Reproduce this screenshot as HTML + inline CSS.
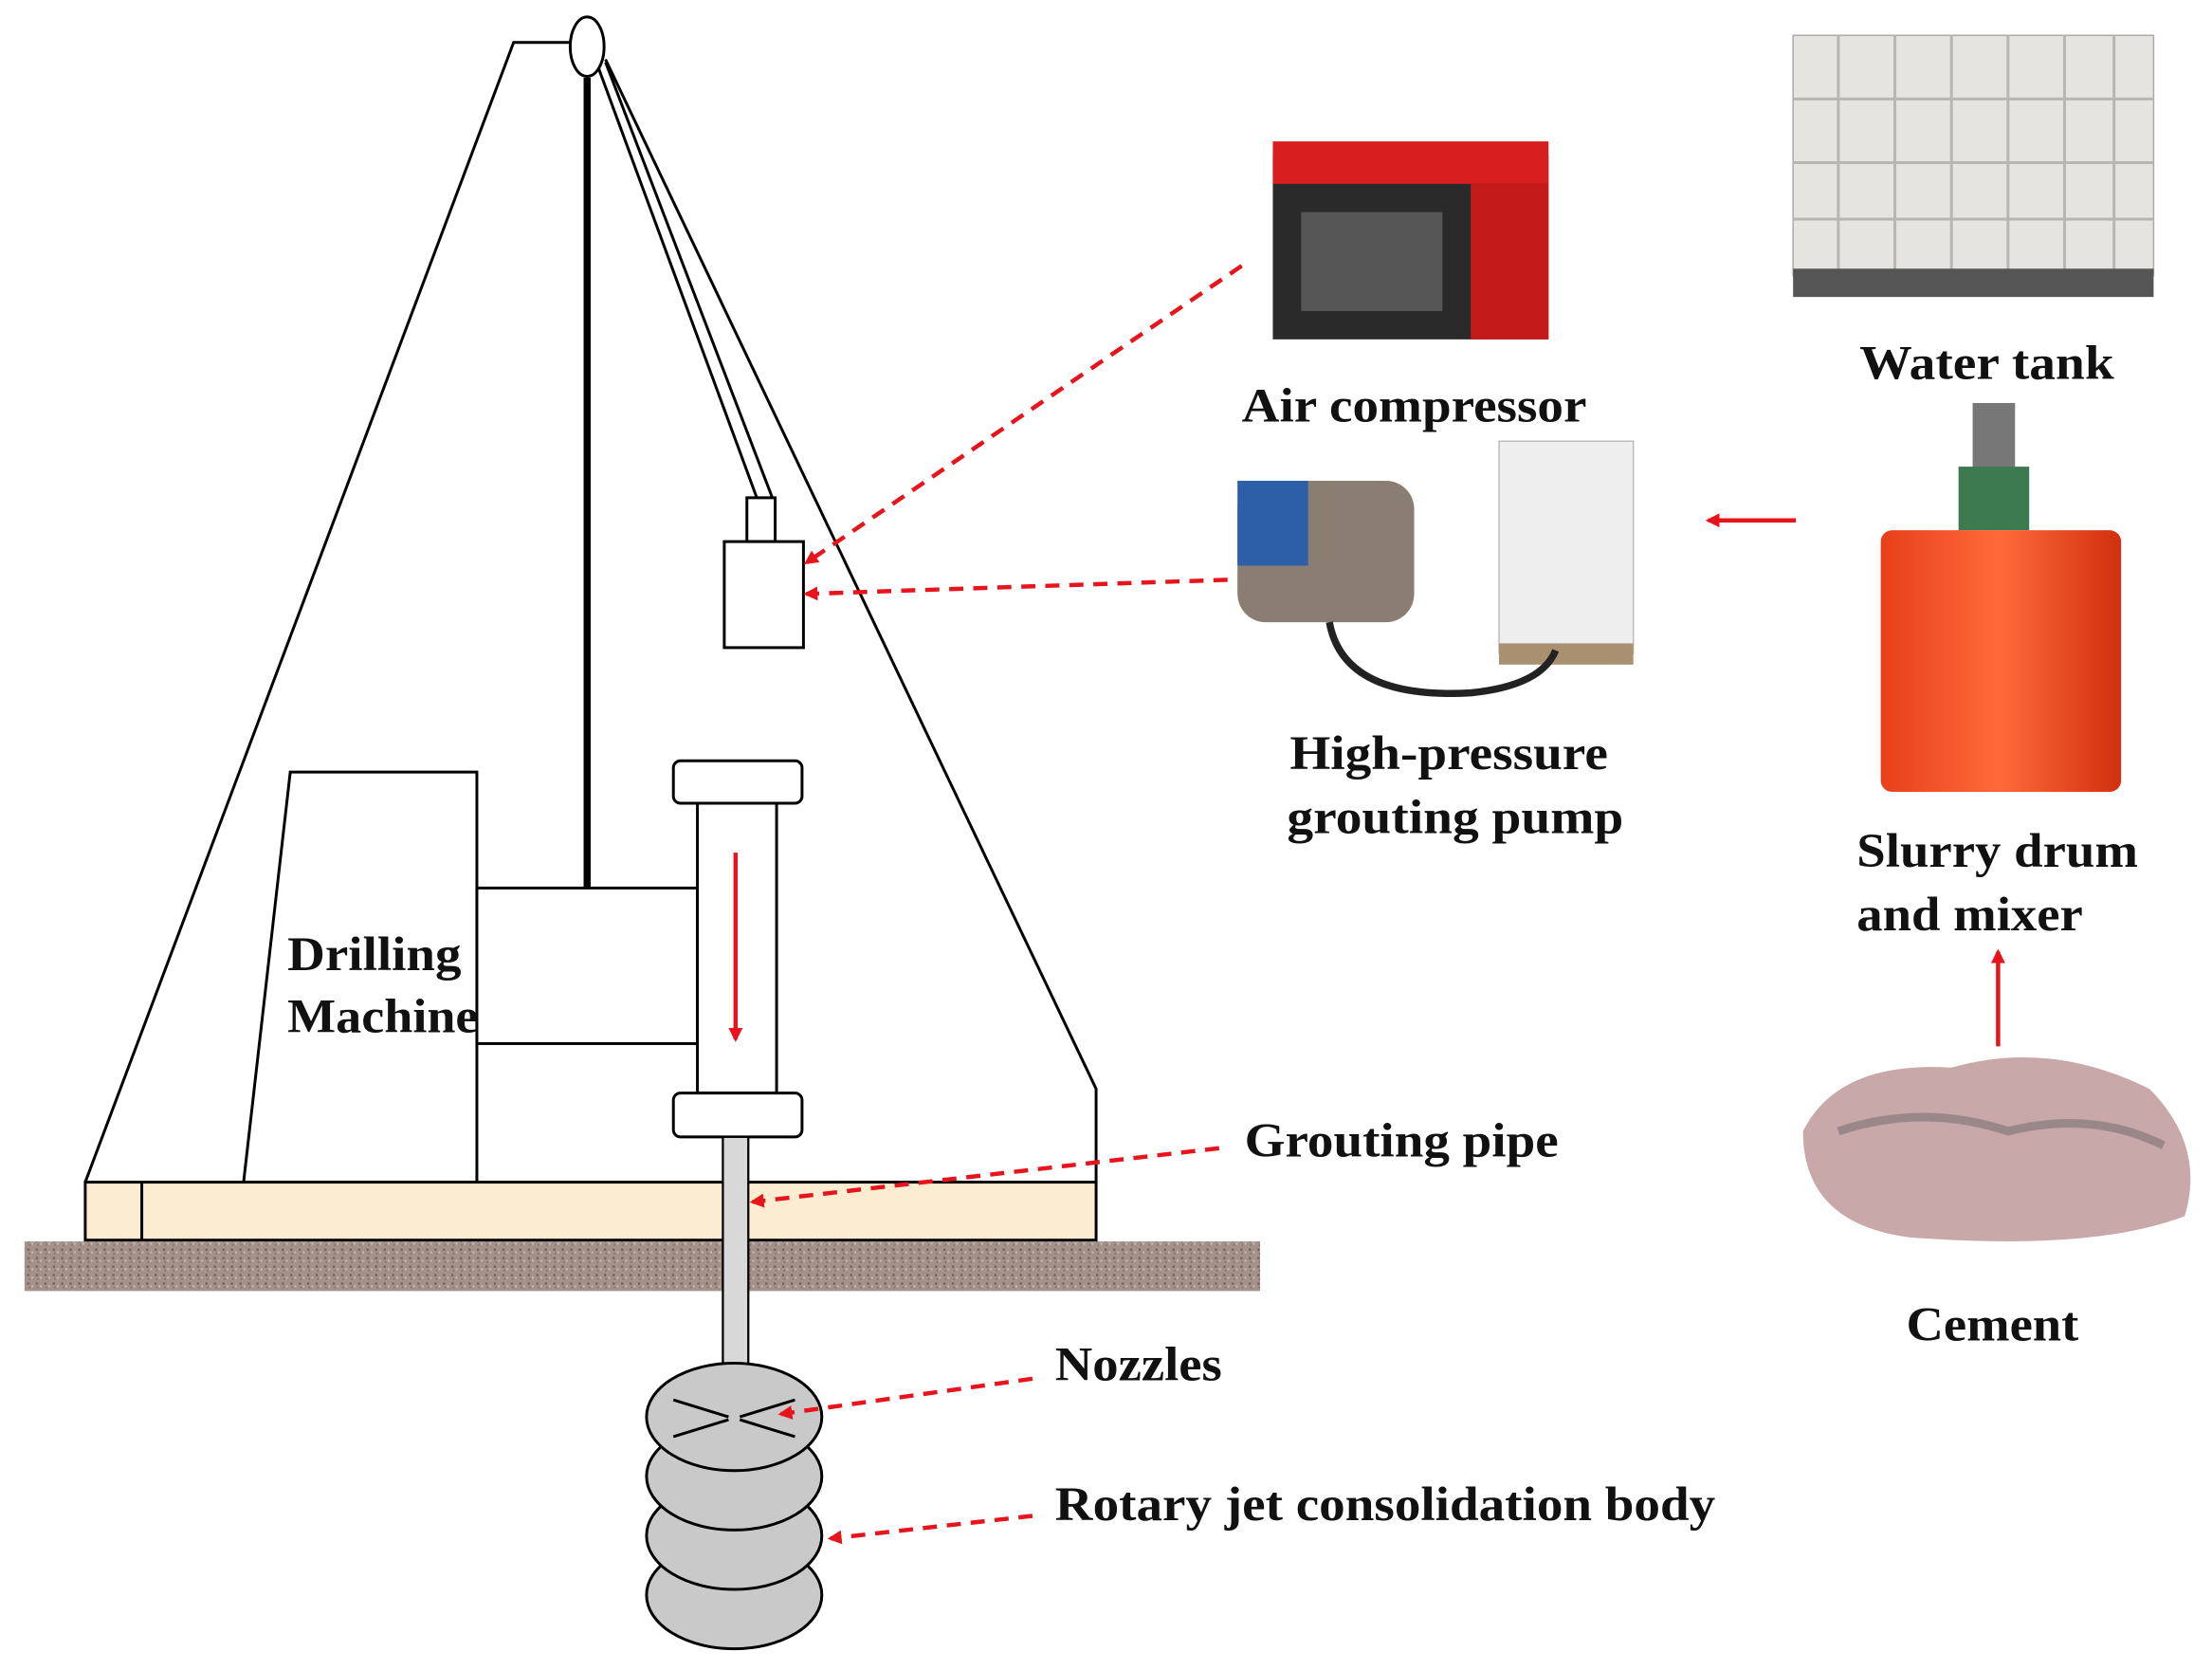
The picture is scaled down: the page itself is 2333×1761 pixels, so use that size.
<!DOCTYPE html>
<html><head><meta charset="utf-8"><style>
html,body{margin:0;padding:0;background:#fff;}
svg{display:block;}
text{font-family:"Liberation Serif",serif;font-weight:bold;fill:#111;}
</style></head><body>
<svg width="2333" height="1761" viewBox="0 0 1564 1181" xmlns="http://www.w3.org/2000/svg">
<defs>
<marker id="ah" markerWidth="10" markerHeight="10" refX="8" refY="5" orient="auto" markerUnits="userSpaceOnUse">
<path d="M0,0 L10,5 L0,10 z" fill="#e8141c"/></marker>
<pattern id="grav" width="6" height="6" patternUnits="userSpaceOnUse">
<rect width="6" height="6" fill="#a4928a"/><rect x="1" y="1" width="1.5" height="1.5" fill="#6e5e58"/><rect x="4" y="3" width="1.2" height="1.2" fill="#d2c4bc"/><rect x="2" y="4" width="1" height="1" fill="#7d6a60"/></pattern>
<linearGradient id="drum" x1="0" x2="1"><stop offset="0" stop-color="#e8401a"/><stop offset="0.5" stop-color="#ff6a3a"/><stop offset="1" stop-color="#d0300f"/></linearGradient>
</defs>
<g fill="none" stroke="#000" stroke-width="2">
<polyline points="60,836 363,30 404,30"/>
<polyline points="428,42 775,770 775,836"/>
<line x1="423" y1="48" x2="535" y2="352"/>
<line x1="428" y1="44" x2="546" y2="352"/>
<line x1="415" y1="55" x2="415" y2="628" stroke-width="5"/>
<ellipse cx="415" cy="33" rx="12" ry="21" fill="#fff"/>
<rect x="528" y="352" width="20" height="31" fill="#fff"/>
<rect x="512" y="383" width="56" height="75" fill="#fff"/>
<polygon points="205,546 337,546 337,836 172,836" fill="#fff"/>
<rect x="337" y="628" width="156" height="110" fill="#fff"/>
<rect x="493" y="568" width="56" height="205" fill="#fff"/>
<rect x="476" y="538" width="91" height="30" rx="5" fill="#fff"/>
<rect x="476" y="773" width="91" height="31" rx="5" fill="#fff"/>
<rect x="60" y="836" width="715" height="41" fill="#fcedd2"/>
<line x1="100" y1="836" x2="100" y2="877"/>
</g>
<rect x="17" y="878" width="874" height="35" fill="url(#grav)"/>
<rect x="511" y="804" width="18" height="162" fill="#d8d8d8" stroke="#000" stroke-width="1.5"/>
<g fill="#c9c9c9" stroke="#000" stroke-width="2">
<ellipse cx="519" cy="1128" rx="62" ry="38"/>
<ellipse cx="519" cy="1086" rx="62" ry="38"/>
<ellipse cx="519" cy="1044" rx="62" ry="38"/>
<ellipse cx="519" cy="1002" rx="62" ry="38"/>
</g>
<g stroke="#000" stroke-width="2"><line x1="476" y1="990" x2="515" y2="1002"/><line x1="476" y1="1016" x2="515" y2="1004"/><line x1="562" y1="990" x2="523" y2="1002"/><line x1="562" y1="1016" x2="523" y2="1004"/></g>
<g stroke="#e8141c" stroke-width="3" fill="none">
<line x1="520" y1="603" x2="520" y2="735" marker-end="url(#ah)"/>
<line x1="878" y1="188" x2="570" y2="398" stroke-dasharray="10,7" marker-end="url(#ah)"/>
<line x1="868" y1="410" x2="570" y2="420" stroke-dasharray="10,7" marker-end="url(#ah)"/>
<line x1="862" y1="812" x2="532" y2="850" stroke-dasharray="10,7" marker-end="url(#ah)"/>
<line x1="730" y1="975" x2="552" y2="1000" stroke-dasharray="10,7" marker-end="url(#ah)"/>
<line x1="730" y1="1072" x2="587" y2="1088" stroke-dasharray="10,7" marker-end="url(#ah)"/>
<line x1="1270" y1="368" x2="1208" y2="368" marker-end="url(#ah)"/>
<line x1="1413" y1="740" x2="1413" y2="673" marker-end="url(#ah)"/>
</g>
<g>
<rect x="900" y="110" width="195" height="130" fill="#2a2a2a"/>
<rect x="900" y="100" width="195" height="30" fill="#d81e1e"/>
<rect x="1040" y="130" width="55" height="110" fill="#c41a1a"/>
<rect x="920" y="150" width="100" height="70" fill="#555"/>
<rect x="1268" y="25" width="255" height="170" fill="#e6e4e0" stroke="#aaa"/>
<g stroke="#b8b6b0" stroke-width="2"><line x1="1268" y1="70" x2="1523" y2="70"/><line x1="1268" y1="115" x2="1523" y2="115"/><line x1="1268" y1="155" x2="1523" y2="155"/>
<line x1="1300" y1="25" x2="1300" y2="195"/><line x1="1340" y1="25" x2="1340" y2="195"/><line x1="1380" y1="25" x2="1380" y2="195"/><line x1="1420" y1="25" x2="1420" y2="195"/><line x1="1460" y1="25" x2="1460" y2="195"/><line x1="1495" y1="25" x2="1495" y2="195"/></g>
<rect x="1268" y="190" width="255" height="20" fill="#555"/>
<rect x="875" y="340" width="125" height="100" rx="20" fill="#8a7e72"/>
<rect x="875" y="340" width="50" height="60" fill="#2d5ea8"/>
<rect x="1060" y="312" width="95" height="150" fill="#eeeeee" stroke="#bbb"/>
<rect x="1060" y="455" width="95" height="15" fill="#a89070"/>
<path d="M940,440 Q950,495 1040,490 Q1090,485 1100,460" stroke="#222" stroke-width="5" fill="none"/>
<rect x="1395" y="285" width="30" height="50" fill="#777"/>
<rect x="1385" y="330" width="50" height="45" fill="#3d7a50"/>
<rect x="1330" y="375" width="170" height="185" rx="8" fill="url(#drum)"/>
<path d="M1275,800 Q1300,750 1380,755 Q1450,735 1520,770 Q1560,810 1545,860 Q1480,885 1350,875 Q1275,865 1275,800z" fill="#c8a8a8"/>
<path d="M1300,800 Q1360,780 1420,800 Q1480,785 1530,810" stroke="#9a8888" stroke-width="6" fill="none"/>
</g>
<g font-size="34">
<text x="203" y="686" textLength="123" lengthAdjust="spacingAndGlyphs">Drilling</text>
<text x="203" y="730" textLength="135" lengthAdjust="spacingAndGlyphs">Machine</text>
<text x="878" y="298" textLength="244" lengthAdjust="spacingAndGlyphs">Air compressor</text>
<text x="1315" y="268" textLength="180" lengthAdjust="spacingAndGlyphs">Water tank</text>
<text x="912" y="544" textLength="225" lengthAdjust="spacingAndGlyphs">High-pressure</text>
<text x="910" y="589" textLength="238" lengthAdjust="spacingAndGlyphs">grouting pump</text>
<text x="1313" y="613" textLength="199" lengthAdjust="spacingAndGlyphs">Slurry drum</text>
<text x="1313" y="658" textLength="160" lengthAdjust="spacingAndGlyphs">and mixer</text>
<text x="880" y="818" textLength="222" lengthAdjust="spacingAndGlyphs">Grouting pipe</text>
<text x="1348" y="948" textLength="122" lengthAdjust="spacingAndGlyphs">Cement</text>
<text x="746" y="976" textLength="118" lengthAdjust="spacingAndGlyphs">Nozzles</text>
<text x="746" y="1075" textLength="467" lengthAdjust="spacingAndGlyphs">Rotary jet consolidation body</text>
</g>
</svg>
</body></html>
